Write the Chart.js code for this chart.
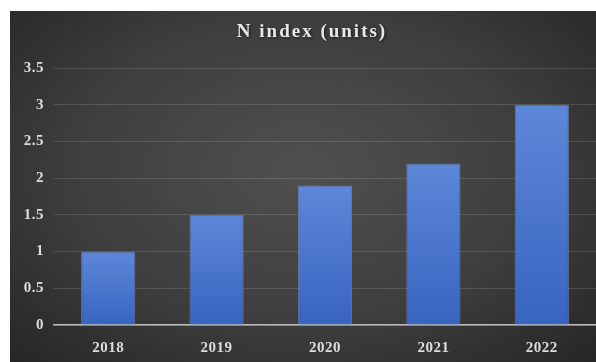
<!DOCTYPE html>
<html>
<head>
<meta charset="utf-8">
<script src="https://cdn.jsdelivr.net/npm/chart.js@4"></script>
<style>
  html, body { margin: 0; padding: 0; background: #fff; overflow: hidden; }
  #wrap {
    position: absolute; left: 10px; top: 11px; width: 586px; height: 351px;
    background: radial-gradient(ellipse at 50% 45%, #505050 0%, #3e3e3e 55%, #262626 100%);
  }
  canvas { display: block; }
</style>
</head>
<body>
<div id="wrap"><canvas id="chart-container" width="586" height="351"></canvas></div>
<script>
const years = ['2018', '2019', '2020', '2021', '2022'];
const nIndex = [1, 1.5, 1.9, 2.2, 3];
const yTicks = [0, 0.5, 1, 1.5, 2, 2.5, 3, 3.5];
const chartTitle = 'N index (units)';

const serif = '"Liberation Serif", "Times New Roman", serif';

// spaced lettering like the original; title drawn by hand so it can be spaced wider
const lettering = {
    id: 'lettering',
    beforeDraw(chart) { chart.ctx.letterSpacing = '0.5px'; },
    afterDraw(chart) {
        const c = chart.ctx;
        c.save();
        c.letterSpacing = '2px';
        c.font = 'bold 19px ' + serif;
        c.fillStyle = '#e8e8e8';
        c.textAlign = 'center';
        c.textBaseline = 'middle';
        c.shadowColor = 'rgba(0,0,0,0.6)';
        c.shadowBlur = 3;
        c.shadowOffsetX = 1;
        c.shadowOffsetY = 1;
        c.fillText(chartTitle, chart.width / 2 + 9, 21);
        c.restore();
    }
};

const ctx = document.getElementById('chart-container').getContext('2d');
new Chart(ctx, {
    type: 'bar',
    data: {
        labels: years,
        datasets: [{
            label: chartTitle,
            data: nIndex,
            backgroundColor: function(c) {
                const chart = c.chart;
                if (!chart.chartArea || c.raw === undefined) return '#4472c4';
                const y = chart.scales.y;
                const top = y.getPixelForValue(c.raw);
                const bottom = y.getPixelForValue(0);
                const g = chart.ctx.createLinearGradient(0, top, 0, bottom);
                g.addColorStop(0, '#5d87d7');
                g.addColorStop(1, '#3864c1');
                return g;
            },
            borderColor: 'rgba(120,155,225,0.6)',
            borderWidth: 1,
            categoryPercentage: 1,
            barPercentage: 0.5
        }]
    },
    options: {
        responsive: false,
        animation: false,
        layout: { padding: { top: 57, right: 0, bottom: 7, left: 0 } },
        plugins: {
            legend: { display: false },
            tooltip: { enabled: false },
            title: { display: false }
        },
        scales: {
            x: {
                afterFit: axis => { axis.height = 30; },
                grid: { display: false, drawTicks: false },
                border: { display: true, color: '#bdbdbd', width: 1.5 },
                ticks: {
                    color: '#dcdcdc',
                    padding: 14,
                    font: { family: serif, size: 15, weight: 'bold', lineHeight: 1.2 }
                }
            },
            y: {
                min: 0,
                max: 3.5,
                afterBuildTicks: axis => { axis.ticks = yTicks.map(v => ({ value: v })); },
                afterFit: axis => { axis.width = 44; },
                grid: { color: 'rgba(255,255,255,0.13)', drawTicks: false },
                border: { display: false },
                ticks: {
                    color: '#dcdcdc',
                    padding: 10,
                    font: { family: serif, size: 15, weight: 'bold', lineHeight: 1.2 },
                    callback: v => String(v)
                }
            }
        }
    },
    plugins: [lettering]
});
</script>
</body>
</html>
